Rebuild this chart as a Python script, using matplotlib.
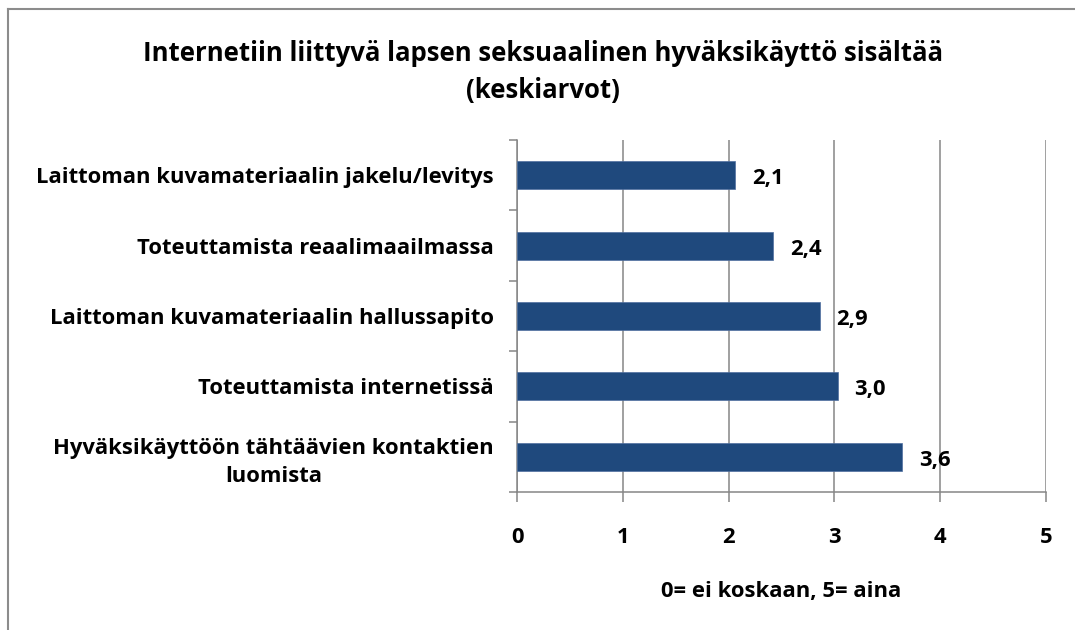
import numpy as np
import matplotlib.pyplot as plt
from matplotlib.lines import Line2D

plt.rcParams['font.family'] = ['Open Sans', 'DejaVu Sans']

categories = [
    "Laittoman kuvamateriaalin jakelu/levitys",
    "Toteuttamista reaalimaailmassa",
    "Laittoman kuvamateriaalin hallussapito",
    "Toteuttamista internetissä",
    "Hyväksikäyttöön tähtäävien kontaktien\nluomista",
]
values = [2.06, 2.42, 2.86, 3.03, 3.64]
xticks = [0, 1, 2, 3, 4, 5]

BAR = "#1F497D"
GRID = "#868686"
FS = 15.8

fig = plt.figure(figsize=(10.75, 6.3), dpi=100)
ax = fig.add_axes([517 / 1075, 1 - 492 / 630, 529 / 1075, 352 / 630])

y = np.arange(len(categories))
ax.barh(y, values, height=0.4, color=BAR, edgecolor="#4F6F9F", lw=0.5,
        zorder=3)
for yi, v in zip(y, values):
    ax.text(v + 0.16, yi + 0.05, f"{v:.1f}".replace(".", ","),
            va="center", ha="left", fontsize=FS, fontweight="bold")

ax.set_xlim(0, 5)
ax.set_ylim(len(categories) - 0.5, -0.5)
ax.set_xticks(xticks)
ax.set_xticklabels([str(t) for t in xticks], fontsize=FS,
                   fontweight="bold")
ax.set_yticks(y)
ax.set_yticklabels(categories, fontsize=FS, fontweight="bold",
                   multialignment="center", linespacing=1.4)
ax.set_yticks(np.arange(-0.5, len(categories)), minor=True)
ax.tick_params(axis="y", which="major", length=0, pad=16.5)
ax.tick_params(axis="y", which="minor", length=6, width=1.1, color=GRID)
ax.tick_params(axis="x", length=7, width=1.1, color=GRID, pad=18)
ax.grid(axis="x", color=GRID, lw=1.1, zorder=0)
for side in ["top", "right"]:
    ax.spines[side].set_visible(False)
for side in ["left", "bottom"]:
    ax.spines[side].set_color(GRID)
    ax.spines[side].set_linewidth(1.1)

ax.set_xlabel("0= ei koskaan, 5= aina", fontsize=FS, fontweight="bold",
              labelpad=24)

fig.text(543 / 1075, 1 - 72 / 630,
         "Internetiin liittyvä lapsen seksuaalinen hyväksikäyttö sisältää\n"
         "(keskiarvot)", ha="center", va="center", fontsize=18.5,
         fontweight="bold", linespacing=1.5)

# chart frame (only top and left edges are inside the picture)
fig.add_artist(Line2D([7.5 / 1075, 7.5 / 1075], [0, 1 - 8.5 / 630],
                      transform=fig.transFigure, color="#8c8c8c", lw=1.5))
fig.add_artist(Line2D([7.5 / 1075, 1], [1 - 8.5 / 630, 1 - 8.5 / 630],
                      transform=fig.transFigure, color="#8c8c8c", lw=1.5))

fig.savefig("out.png", dpi=100)
